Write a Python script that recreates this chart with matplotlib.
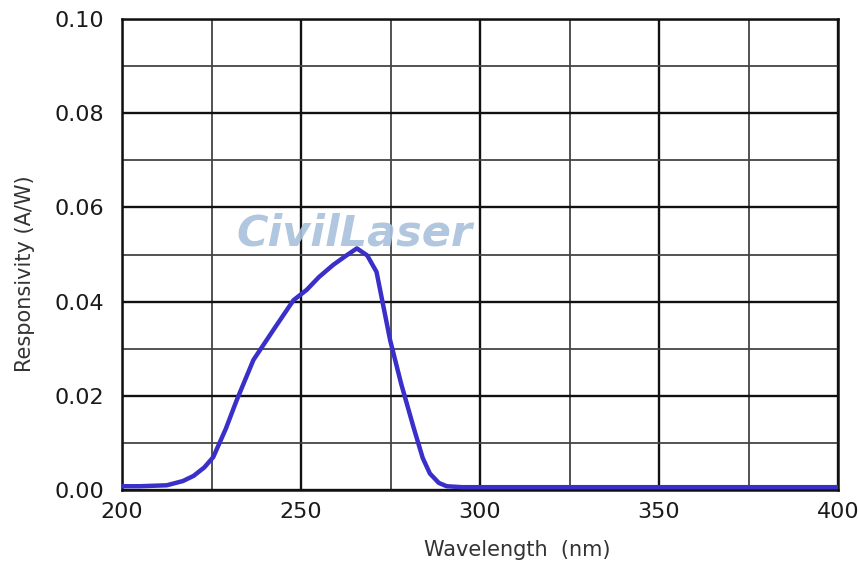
import matplotlib
matplotlib.use("Agg")
import matplotlib.pyplot as plt
import numpy as np

wavelength = [200, 205, 212.5, 217, 220, 223, 225.5, 229, 232, 236.7, 242.3, 247.9, 251.6, 255, 259, 262.5, 265.6, 268.5, 271.1, 274.9, 278, 281.4, 284, 286, 288.5, 290.7, 295, 320, 360, 400]
responsivity = [0.0008, 0.0008, 0.001, 0.0019, 0.003, 0.0048, 0.007, 0.013, 0.019, 0.0276, 0.034, 0.0403, 0.0425, 0.0452, 0.0478, 0.0497, 0.0513, 0.0498, 0.0463, 0.0318, 0.0225, 0.0134, 0.0068, 0.0035, 0.0015, 0.0008, 0.0006, 0.0006, 0.0006, 0.0006]

x_ticks = [200, 250, 300, 350, 400]
y_ticks = [0.00, 0.02, 0.04, 0.06, 0.08, 0.10]
x_tick_labels = ["200", "250", "300", "350", "400"]
y_tick_labels = ["0.00", "0.02", "0.04", "0.06", "0.08", "0.10"]

fig = plt.figure(figsize=(8.58, 5.69), dpi=100)
ax = fig.add_axes([122/858, 1-490/569, (838-122)/858, (490-19)/569])

ax.set_xlim(200, 400)
ax.set_ylim(0, 0.10)
ax.set_xticks(x_ticks)
ax.set_xticklabels(x_tick_labels)
ax.set_yticks(y_ticks)
ax.set_yticklabels(y_tick_labels)
ax.set_xticks(np.arange(225, 400, 50), minor=True)
ax.set_yticks(np.arange(0.01, 0.10, 0.02), minor=True)

ax.grid(True, which="major", color="#111111", linewidth=1.7)
ax.grid(True, which="minor", color="#444444", linewidth=1.3)
ax.set_axisbelow(True)
for s in ax.spines.values():
    s.set_color("#111111")
    s.set_linewidth(1.8)

ax.tick_params(which="both", length=0)
ax.tick_params(axis="x", pad=9, labelsize=16)
ax.tick_params(axis="y", pad=13, labelsize=16)
for lab in ax.get_xticklabels() + ax.get_yticklabels():
    lab.set_color("#1a1a1a")

ax.plot(wavelength, responsivity, color="#3a2fc8", linewidth=3.2, solid_joinstyle="round", zorder=5)

ax.text(0.325, 0.545, "CivilLaser", transform=ax.transAxes, fontsize=31, fontweight="bold",
        style="italic", color="#a9c0dc", alpha=0.9, ha="center", va="center", zorder=4)

ax.set_xlabel("Wavelength  (nm)", fontsize=15, color="#333333")
ax.set_ylabel("Responsivity (A/W)", fontsize=15, color="#333333")
ax.xaxis.set_label_coords((517-122)/716, -(550-490)/471)
ax.yaxis.set_label_coords((25-122)/716, 0.46)
ax.xaxis.label.set_va("center")
ax.yaxis.label.set_va("center")

fig.savefig("out.png", dpi=100, facecolor="white")
